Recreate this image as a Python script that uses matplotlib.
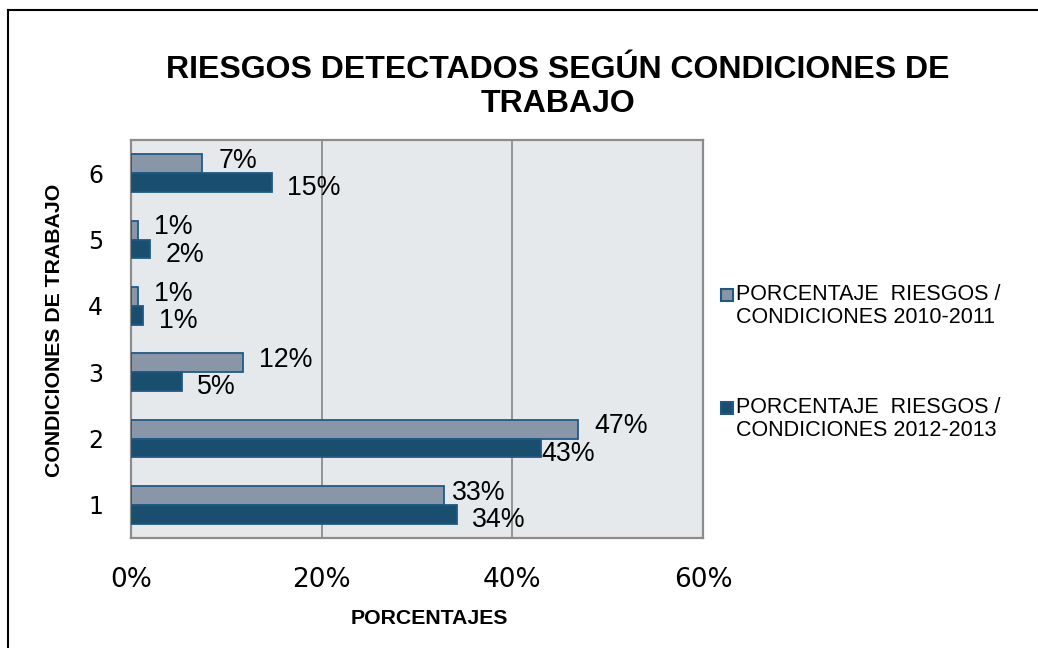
import matplotlib
matplotlib.use("Agg")
import matplotlib.pyplot as plt
from matplotlib.patches import Rectangle
from matplotlib.lines import Line2D
import numpy as np

categories = ["1", "2", "3", "4", "5", "6"]
series_2010 = [32.8, 46.9, 11.7, 0.7, 0.7, 7.4]
series_2013 = [34.2, 43.0, 5.3, 1.3, 2.0, 14.8]
labels_2010 = ["33%", "47%", "12%", "1%", "1%", "7%"]
labels_2013 = ["34%", "43%", "5%", "1%", "2%", "15%"]
xticks = [0, 20, 40, 60]
xtick_labels = ["0%", "20%", "40%", "60%"]
legend_names = ["PORCENTAJE  RIESGOS /\nCONDICIONES 2010-2011",
                "PORCENTAJE  RIESGOS /\nCONDICIONES 2012-2013"]
title = "RIESGOS DETECTADOS SEGÚN CONDICIONES DE\nTRABAJO"
xlabel = "PORCENTAJES"
ylabel = "CONDICIONES DE TRABAJO"

W, H = 1038, 648
fig = plt.figure(figsize=(W / 100, H / 100), dpi=100)
fig.patch.set_facecolor("white")

light = "#8896A8"
dark = "#1A4E6E"
edge = "#1F5A85"
bg = "#E6E9EC"
grid = "#8C8C8C"
sans = ["Liberation Sans", "DejaVu Sans"]

ax = fig.add_axes([131 / W, 1 - 538 / H, (703 - 131) / W, (538 - 140) / H])
ax.set_facecolor(bg)
y = np.arange(1, len(categories) + 1)
bh = 0.285
ax.barh(y + bh / 2, series_2010, height=bh, color=light, edgecolor=edge, linewidth=1.3, zorder=3)
ax.barh(y - bh / 2, series_2013, height=bh, color=dark, edgecolor=edge, linewidth=1.3, zorder=3)

ax.set_xlim(0, 60)
ax.set_ylim(0.5, 6.5)
ax.set_xticks(xticks)
ax.set_xticklabels(xtick_labels, fontsize=19, family="DejaVu Sans")
ax.set_yticks(y)
ax.set_yticklabels(categories, fontsize=17, family="DejaVu Sans")
ax.tick_params(axis="x", length=0, pad=21)
ax.tick_params(axis="y", length=0, pad=20)
for xv in xticks[1:-1]:
    ax.axvline(xv, color=grid, lw=1.3, zorder=1)
for s in ax.spines.values():
    s.set_color(grid)
    s.set_linewidth(1.6)

# data labels
tweak_2010 = {0: 6}
tweak_2013 = {1: 0}
for i, (v, lab) in enumerate(zip(series_2010, labels_2010)):
    dx = tweak_2010.get(i, 12)
    ax.annotate(lab, (v, y[i] + bh / 2), xytext=(dx, 2), textcoords="offset points",
                ha="left", va="center", fontsize=19.3, family=sans, zorder=4)
for i, (v, lab) in enumerate(zip(series_2013, labels_2013)):
    dx = tweak_2013.get(i, 11)
    ax.annotate(lab, (v, y[i] - bh / 2), xytext=(dx, -4), textcoords="offset points",
                ha="left", va="center", fontsize=19.3, family=sans, zorder=4)

# title and axis labels
fig.text(558 / W, 1 - 87 / H, title, ha="center", va="center", fontsize=23,
         fontweight="bold", family=sans, linespacing=1.15)
fig.text(429 / W, 1 - 618 / H, xlabel, ha="center", va="center", fontsize=15.3,
         fontweight="bold", family=sans)
fig.text(55 / W, 1 - 330 / H, ylabel, ha="center", va="center", fontsize=15.3,
         fontweight="bold", family=sans, rotation=90)

# legend
for k, (name, col) in enumerate(zip(legend_names, [light, dark])):
    y0 = 295 + k * 113
    fig.patches.append(Rectangle((721 / W, 1 - (y0 + 6) / H), 12 / W, 12 / H,
                                 transform=fig.transFigure, facecolor=col,
                                 edgecolor=edge, linewidth=1.5))
    fig.text(736 / W, 1 - (y0 - 11) / H, name, ha="left", va="top", fontsize=15.5,
             family=sans, linespacing=1.1)

# chart border (top and left)
fig.add_artist(Line2D([8 / W, 8 / W], [0, 1 - 10 / H], transform=fig.transFigure, color="black", lw=1.5))
fig.add_artist(Line2D([8 / W, 1], [1 - 10 / H, 1 - 10 / H], transform=fig.transFigure, color="black", lw=1.5))

fig.savefig("out.png", dpi=100, facecolor="white")
